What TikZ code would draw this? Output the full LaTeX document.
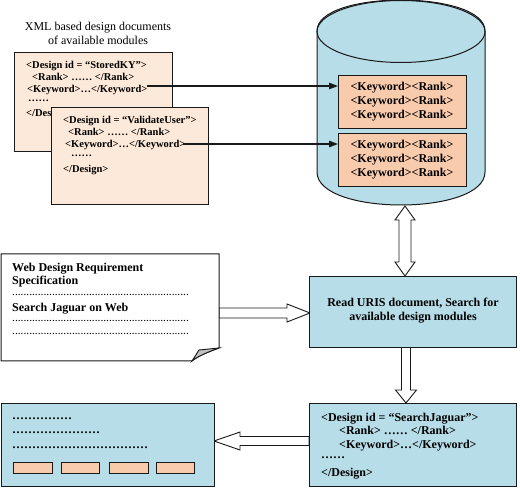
\documentclass[tikz,border=0pt]{standalone}
\usepackage{fontspec}
\setmainfont{Liberation Serif}
\usetikzlibrary{arrows.meta,calc}
\definecolor{docfill}{HTML}{FDE9D9}
\definecolor{kwfill}{HTML}{F8CBAD}
\definecolor{bluefill}{HTML}{B7DDE8}
\definecolor{foldgray}{HTML}{C0C0C0}
\newcommand\mydotrow[3]{\hbox to #1{\leaders\hbox to #2{\hss#3\hss}\hfill}}
\begin{document}
\begin{tikzpicture}[x=1pt,y=-1pt,
  box/.style={draw=black!90, line width=1pt, inner sep=0pt, anchor=north west},
  txt/.style={font=\fontsize{12}{14}\selectfont\bfseries, inner sep=0pt, anchor=base west},
  stxt/.style={font=\fontsize{10.5}{12}\selectfont\bfseries, inner sep=0pt, anchor=base west},
  fat/.style={draw=black!90, line width=0.9pt, fill=white, line join=miter},
  thinarrow/.style={draw=black!90, line width=1.2pt, -{Triangle[length=9pt,width=6.5pt]}},
  smallrect/.style={draw=black!90, line width=0.9pt, fill=kwfill, inner sep=0pt, anchor=north west, minimum height=11pt}]
\useasboundingbox (0,0) rectangle (520,497);

% title
\node[font=\fontsize{12}{14}\selectfont, align=center, inner sep=0pt] (title) at (98,33) {XML based design documents\\of available modules};

% document 1
\node[box, fill=docfill, minimum width=158pt, minimum height=99pt] (d1) at (14,52) {};
\foreach \x/\y/\t [count=\i] in {26/68.5/{<Design id = “StoredKY”>}, 32/80.5/{<Rank> …… </Rank>}, 27/92.5/{<Keyword>…</Keyword>}, 28/102/{……}, 26/116.5/{</Design>}}
  \node[stxt] (da\i) at (\x,\y) {\t};

% document 2
\node[box, fill=docfill, minimum width=157pt, minimum height=97pt] (d2) at (51,107) {};
\foreach \x/\y/\t [count=\i] in {63/123.5/{<Design id = “ValidateUser”>}, 68/135.5/{<Rank> …… </Rank>}, 65/147.5/{<Keyword>…</Keyword>}, 71/156.7/{……}, 63/172.5/{</Design>}}
  \node[stxt] (db\i) at (\x,\y) {\t};

% cylinder
\path[draw=black!90, line width=1pt, fill=bluefill]
  (317,31) -- (317,172) .. controls (317,216) and (485,216) .. (485,172)
  -- (485,31) .. controls (485,-10.3) and (317,-10.3) .. (317,31) -- cycle;
\draw[black!90, line width=1pt] (401,31.5) ellipse [x radius=84, y radius=31];
\coordinate (cb) at (405,206);

\node[box, fill=kwfill, minimum width=128pt, minimum height=53pt] (kb1) at (338,75) {};
\node[txt, anchor=center, align=center, font=\fontsize{12}{14}\selectfont\bfseries] (kt1) at (402,102) {<Keyword><Rank>\\<Keyword><Rank>\\<Keyword><Rank>};
\node[box, fill=kwfill, minimum width=128pt, minimum height=53pt] (kb2) at (338,133) {};
\node[txt, anchor=center, align=center, font=\fontsize{12}{14}\selectfont\bfseries] (kt2) at (402,160) {<Keyword><Rank>\\<Keyword><Rank>\\<Keyword><Rank>};

% thin arrows
\coordinate (a1) at (147,86);
\coordinate (a2) at (183,144);
\draw[thinarrow] (a1) -- (a1 -| kb1.west);
\draw[thinarrow] (a2) -- (a2 -| kb2.west);

% fat arrows
\coordinate (docr) at (219,313);
\coordinate (pd) at (406,347);
\coordinate (ol) at (309,441);
\draw[fat] (docr) ++(0,-5) -- ++(68,0) -- ++(0,-4) -- ++(23,9) -- ++(-23,9) -- ++(0,-4) -- ++(-68,0) -- cycle;
\draw[fat] (cb) -- ++(10,14) -- ++(-4,0) -- ++(0,42) -- ++(4,0) -- ++(-10,14) -- ++(-10,-14) -- ++(4,0) -- ++(0,-42) -- ++(-4,0) -- cycle;
\draw[fat] (pd) ++(-4.5,0) -- ++(0,43) -- ++(-6,0) -- ++(10.5,13) -- ++(10.5,-13) -- ++(-6,0) -- ++(0,-43) -- cycle;
\draw[fat] (ol) ++(0,-4.5) -- ++(-69,0) -- ++(0,-4.5) -- ++(-26,9) -- ++(26,9) -- ++(0,-4.5) -- ++(69,0) -- cycle;

% requirement document
\path[draw=black!90, line width=1pt, fill=white]
  (1,254) -- (219,254) -- (219,348) .. controls (208,352) and (198,356) .. (192,361) -- (1,361) -- cycle;
\path[draw=black!90, line width=0.9pt, fill=foldgray]
  (192,361) .. controls (195,355) .. (199,350) -- (219,348) .. controls (208,352) and (198,356) .. (192,361) -- cycle;
\node[txt] (r1) at (12,271.7) {Web Design Requirement};
\node[txt] (r2) at (12,285) {Specification};
\node[txt, font=\fontsize{11.5}{14}\selectfont] (r3) at (12,295.7) {\mydotrow{177pt}{2.85pt}{.}};
\node[txt] (r4) at (12,311.3) {Search Jaguar on Web};
\node[txt, font=\fontsize{11.5}{14}\selectfont] (r5) at (12,321.7) {\mydotrow{177pt}{2.85pt}{.}};
\node[txt, font=\fontsize{11.5}{14}\selectfont] (r6) at (12,334.3) {\mydotrow{177pt}{2.85pt}{.}};

% process box
\node[box, fill=bluefill, minimum width=207pt, minimum height=71pt] (proc) at (309,276) {};
\node[txt, anchor=center, align=center] (proct) at (413,311) {Read URIS document, Search for\\available design modules};

% output xml box
\node[box, fill=bluefill, minimum width=207pt, minimum height=83pt] (outx) at (309,403) {};
\foreach \x/\y/\t [count=\i] in {321/421/{<Design id = “SearchJaguar”>}, 339/435/{<Rank> …… </Rank>}, 339/448/{<Keyword>…</Keyword>}, 321/458.3/{……}, 321/476/{</Design>}}
  \node[txt] (dc\i) at (\x,\y) {\t};

% web page box
\node[box, fill=bluefill, minimum width=213.5pt, minimum height=83pt] (web) at (0.5,403) {};
\node[txt] (w1) at (12,420) {\mydotrow{60pt}{4pt}{.}};
\node[txt] (w2) at (12,433) {\mydotrow{88pt}{4pt}{.}};
\node[txt] (w3) at (12,448) {\mydotrow{136pt}{4pt}{.}};
\node[smallrect, minimum width=39pt] (s1) at (13,462) {};
\node[smallrect, minimum width=38pt] (s2) at (61,462) {};
\node[smallrect, minimum width=39pt] (s3) at (109,462) {};
\node[smallrect, minimum width=38pt] (s4) at (156,462) {};
\end{tikzpicture}
\end{document}
